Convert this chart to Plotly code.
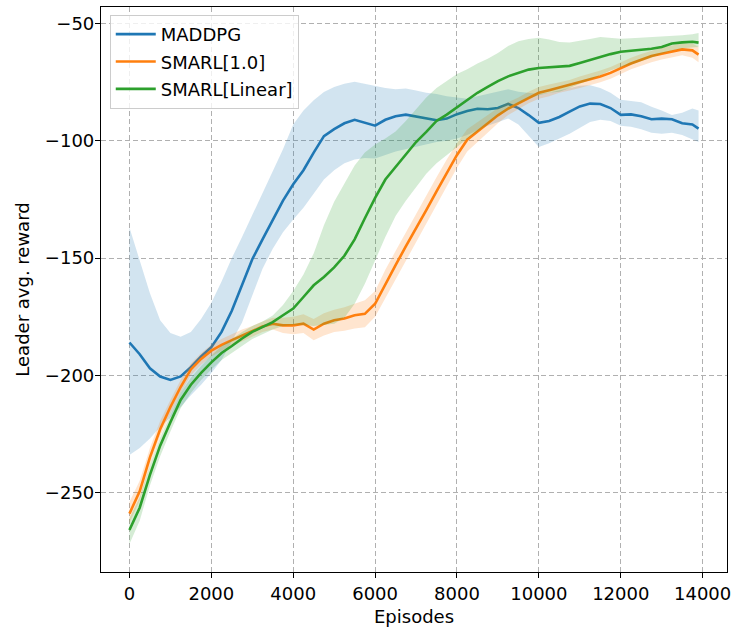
import plotly.graph_objects as go

episodes = list(range(0, 14000, 250)) + [13900]

maddpg = [-186, -191, -197, -200.5, -202, -200.5, -196.5, -192, -188, -181.5,
          -172.5, -161.5, -150.5, -142, -134, -125.5, -118.5, -112.5, -105, -98,
          -95, -92.5, -91, -92.3, -93.5, -91, -89.5, -88.8, -89.5, -90.5,
          -91.2, -90.5, -88.6, -87.3, -86.3, -86.5, -86, -84.2, -86, -89,
          -92.3, -91.5, -89.8, -87.5, -85.3, -84.1, -84.3, -86, -88.9, -88.7,
          -89.5, -90.8, -90.5, -90.8, -92.5, -93, -94.8]
maddpg_hi = [-137, -151, -165, -176.5, -182, -183.6, -181.5, -176, -169, -160,
             -150, -141, -131.7, -122.5, -113, -103.6, -93, -87, -82.7, -79.2,
             -77, -75.6, -74.8, -75.8, -76.5, -77.5, -78, -77.7, -78.5, -79.5,
             -80, -81, -81.5, -82, -81, -80, -79, -78, -79, -79.5,
             -80, -79.5, -78.5, -77.5, -76.5, -76.3, -77.5, -79.5, -82.5, -83,
             -83.5, -85.5, -87, -89, -88, -86.2, -87]
maddpg_lo = [-234, -231, -227, -222, -218, -213.5, -208.5, -204, -199, -193.5,
             -185.5, -177.5, -166, -154.5, -146, -139, -133.5, -128.5, -122.5, -116.5,
             -112.5, -109.5, -108, -107.3, -107.5, -106, -104.5, -103.5, -102.5, -101.5,
             -100.5, -100, -99, -97.5, -95.5, -93.5, -92, -90.5, -93, -98,
             -102.6, -101, -99, -97, -94.5, -92, -91, -91.5, -93.5, -94,
             -95, -96.5, -97, -96.5, -97.5, -99.5, -100.5]

smarl_10 = [-259, -249.5, -235, -223, -213.5, -205, -197.5, -193, -189.5, -187,
            -185, -183, -181.1, -179.2, -178, -178.7, -178.7, -178, -180.5, -178,
            -176.5, -175.8, -174.4, -173.8, -169.5, -161, -153, -145, -137.5, -129.5,
            -121.5, -113.5, -106, -99.5, -96, -92.6, -89.1, -86.2, -84, -81.6,
            -79.5, -78.4, -77.2, -76.3, -75, -73.8, -72.5, -71, -69, -67,
            -65.4, -63.8, -62.8, -61.8, -61, -61.4, -63.2]
smarl_10_hi = [-254, -245, -231, -219.5, -210.5, -202, -195, -190.5, -187, -184.5,
               -182.5, -180.5, -179, -177, -175.5, -175.5, -175, -174, -176, -173.5,
               -172, -171, -169.5, -168, -164, -155, -147, -139, -131.5, -123.5,
               -115.5, -108, -101, -95, -92, -89, -86, -83.5, -81.5, -79,
               -77, -76, -75, -74, -72.5, -71.3, -70, -68.5, -66.5, -64.5,
               -63, -61.5, -60.3, -59.3, -58.5, -58.5, -60]
smarl_10_lo = [-263, -253.5, -238.5, -226, -216.5, -207.5, -200, -195.5, -192, -189.5,
               -187.5, -185.5, -183.5, -181.5, -180.5, -182, -182.5, -182, -185, -183,
               -181.5, -181, -180, -179.5, -175, -167, -159, -151, -143.5, -135.5,
               -127.5, -119.5, -111.5, -104.5, -100.5, -96.5, -92.5, -89, -86.5, -84,
               -82, -81, -79.5, -78.5, -77.5, -76.3, -75, -73.5, -71.5, -69.5,
               -68, -66.5, -65.3, -64.3, -63.5, -64.5, -66.5]

smarl_lin = [-266, -256.5, -242.5, -230, -220, -210.5, -204, -199, -194.5, -190.5,
             -187.5, -184.3, -181.5, -179.5, -177.3, -174.4, -171.5, -166.6, -161.6, -158.1,
             -154, -149, -142, -133, -124.3, -116.5, -111, -105.8, -100.5, -96.2,
             -91.5, -88.8, -85.7, -82.5, -79.5, -77, -74.5, -72.5, -71.1, -69.6,
             -68.9, -68.5, -68.1, -68, -66.8, -65.5, -64.5, -63, -62, -61.6,
             -61.4, -60.7, -60, -58.5, -58, -57.7, -58.1]
smarl_lin_hi = [-261, -252, -238.5, -226.5, -217, -207.5, -201, -196, -191.5, -187.5,
                -184.5, -181.5, -179, -177, -174.5, -170, -164, -157, -148, -136,
                -126, -118, -110.5, -105, -101.5, -99, -96, -91.5, -86.5, -81.5,
                -77.5, -74.5, -71.5, -69.5, -67, -65, -62.5, -59.5, -57.5, -56.5,
                -56, -56.8, -57.8, -58, -57.1, -56.5, -55.7, -56, -56.4, -56.2,
                -56, -55.8, -55.7, -55.3, -55, -54.5, -54]
smarl_lin_lo = [-272, -262, -247, -234.5, -224, -214, -207.5, -202, -197.5, -193.5,
                -190.5, -187.5, -184.5, -182.5, -180.5, -179, -178.5, -178.5, -179, -178.5,
                -178, -175.5, -169.5, -161, -151, -141, -132, -125.5, -119.5, -114,
                -109.5, -106, -102.6, -99, -96, -93, -89.5, -87, -84.5, -82,
                -80.5, -79.5, -79, -77.5, -75.6, -74, -72, -70, -68.5, -67.5,
                -66, -64.5, -62.8, -61.5, -60.5, -60.2, -60]

x_ticks = [0, 2000, 4000, 6000, 8000, 10000, 12000, 14000]
x_ticktext = ["0", "2000", "4000", "6000", "8000", "10000", "12000", "14000"]
y_ticks = [-250, -200, -150, -100, -50]
y_ticktext = ["\u2212250", "\u2212200", "\u2212150", "\u2212100", "\u221250"]

series = [
    ("MADDPG", maddpg, maddpg_hi, maddpg_lo, "#1f77b4", "rgba(31,119,180,0.2)"),
    ("SMARL[1.0]", smarl_10, smarl_10_hi, smarl_10_lo, "#ff7f0e", "rgba(255,127,14,0.2)"),
    ("SMARL[Linear]", smarl_lin, smarl_lin_hi, smarl_lin_lo, "#2ca02c", "rgba(44,160,44,0.2)"),
]

fig = go.Figure()
for name, mean, hi, lo, col, fcol in series:
    fig.add_trace(go.Scatter(
        x=episodes + episodes[::-1], y=hi + lo[::-1],
        fill="toself", fillcolor=fcol, line=dict(width=0),
        mode="lines", showlegend=False, hoverinfo="skip", legendgroup=name))
    fig.add_trace(go.Scatter(
        x=episodes, y=mean, mode="lines", name=name, legendgroup=name,
        line=dict(color=col, width=2.6)))

font = dict(family="DejaVu Sans", size=18, color="black")
fig.update_layout(
    width=736, height=634,
    margin=dict(l=101, r=9, t=7, b=62, autoexpand=False),
    paper_bgcolor="white", plot_bgcolor="white",
    font=font,
    showlegend=True,
    legend=dict(x=0.014, y=0.986, xanchor="left", yanchor="top",
                bgcolor="rgba(255,255,255,0.8)", bordercolor="#cccccc",
                borderwidth=1, font=dict(family="DejaVu Sans", size=18),
                tracegroupgap=1, itemwidth=40),
)
fig.update_xaxes(
    range=[-695, 14595], tickvals=x_ticks, ticktext=x_ticktext,
    automargin=False,
    showline=True, mirror=True, linecolor="black", linewidth=1.2,
    ticks="outside", ticklen=5, tickwidth=1.2, tickcolor="black",
    showgrid=True, gridcolor="#b0b0b0", gridwidth=1.1, griddash="5px,3px",
    zeroline=False,
    title=dict(text="Episodes", font=font, standoff=7),
)
fig.update_yaxes(
    range=[-283.9, -42.9], tickvals=y_ticks, ticktext=y_ticktext,
    automargin=False, ticklabelstandoff=-3,
    showline=True, mirror=True, linecolor="black", linewidth=1.2,
    ticks="outside", ticklen=5, tickwidth=1.2, tickcolor="black",
    showgrid=True, gridcolor="#b0b0b0", gridwidth=1.1, griddash="5px,3px",
    zeroline=False,
    title=dict(text="Leader avg. reward", font=font, standoff=10),
)

fig.write_html("out.html", config={"displayModeBar": False},
               post_script="document.body.style.margin='0';")
